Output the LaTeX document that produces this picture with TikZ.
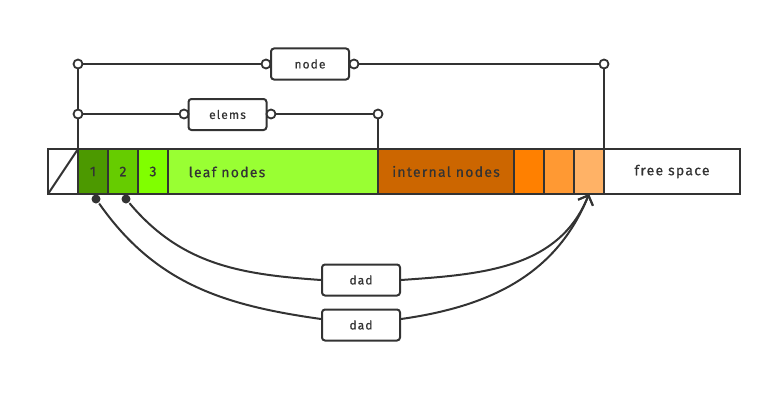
\documentclass[tikz,border=0pt]{standalone}
\usepackage{fontspec}
\setmainfont{Fira Sans}[LetterSpace=9, FakeBold=0.5]
\usetikzlibrary{arrows.meta}
\definecolor{ink}{HTML}{333333}
\definecolor{leafA}{HTML}{4C9900}
\definecolor{leafB}{HTML}{66CC00}
\definecolor{leafC}{HTML}{80FF00}
\definecolor{leafD}{HTML}{99FF33}
\definecolor{innerA}{HTML}{CC6600}
\definecolor{innerB}{HTML}{FF8000}
\definecolor{innerC}{HTML}{FF9933}
\definecolor{innerD}{HTML}{FFB266}
\begin{document}
\begin{tikzpicture}[x=1pt, y=1pt, line width=2pt, color=ink,
  cell/.style={draw=ink, anchor=south west, minimum height=45pt, inner sep=0pt, outer sep=0pt, font=\fontsize{14}{16}\selectfont},
  tag/.style={draw=ink, fill=white, rounded corners=3pt, minimum width=78pt, minimum height=31pt, inner sep=0pt, font=\fontsize{12}{14}\selectfont},
  ring/.style={circle, draw=ink, fill=white, minimum size=9pt, inner sep=0pt, line width=1.8pt},
  dot/.style={circle, fill=ink, minimum size=9pt, inner sep=0pt},
  >={Straight Barb[length=8pt, width=16pt, line width=2pt]}]
\useasboundingbox (0,0) rectangle (773,408);

% memory bar
\node[cell, minimum width=30pt] (slot0) at (48,214) {};
\node[cell, minimum width=30pt, fill=leafA] (slot1) at (78,214) {1};
\node[cell, minimum width=30pt, fill=leafB] (slot2) at (108,214) {2};
\node[cell, minimum width=30pt, fill=leafC] (slot3) at (138,214) {3};
\node[cell, minimum width=210pt, fill=leafD] (leaf) at (168,214) {};
\node[cell, minimum width=136pt, fill=innerA] (inner) at (378,214) {internal nodes};
\node[cell, minimum width=30pt, fill=innerB] (slot4) at (514,214) {};
\node[cell, minimum width=30pt, fill=innerC] (slot5) at (544,214) {};
\node[cell, minimum width=30pt, fill=innerD] (slot6) at (574,214) {};
\node[cell, minimum width=136pt] (free) at (604,214) {free space};
\node[font=\fontsize{14}{16}\selectfont] (leaflbl) at (227,236) {leaf nodes};
\draw (slot0.south west) -- (slot0.north east);

% elems
\node[tag] (elems) at (227.5,293.5) {elems};
\node[ring] (eA) at (78,294) {};
\node[ring] (eL) at (184,294) {};
\node[ring] (eR) at (271,294) {};
\node[ring] (eB) at (378,294) {};
\draw (eA) -- (eL);
\draw (eR) -- (eB);
\draw (eB) -- (leaf.north east);

% node
\node[tag] (nodebox) at (310,344) {node};
\node[ring] (nA) at (78,344) {};
\node[ring] (nL) at (266,344) {};
\node[ring] (nR) at (354,344) {};
\node[ring] (nB) at (604,344) {};
\draw (nA) -- (nL);
\draw (nR) -- (nB);
\draw (nB) -- (slot6.north east);
\draw (nA) -- (eA);
\draw (eA) -- (slot1.north west);

% dad
\node[dot] (d1) at (96,209) {};
\node[dot] (d2) at (126,209) {};
\node[tag] (dad1) at (361,128) {dad};
\node[tag] (dad2) at (361,83) {dad};
\draw (d2) to[out=-50, in=176] (dad1.west);
\draw[->] (dad1.east) to[out=4, in=-112] (slot6.south);
\draw (d1) to[out=-55, in=172] ([yshift=6pt]dad2.west);
\draw[->] ([yshift=6pt]dad2.east) to[out=8, in=-112] (slot6.south);
\end{tikzpicture}
\end{document}
